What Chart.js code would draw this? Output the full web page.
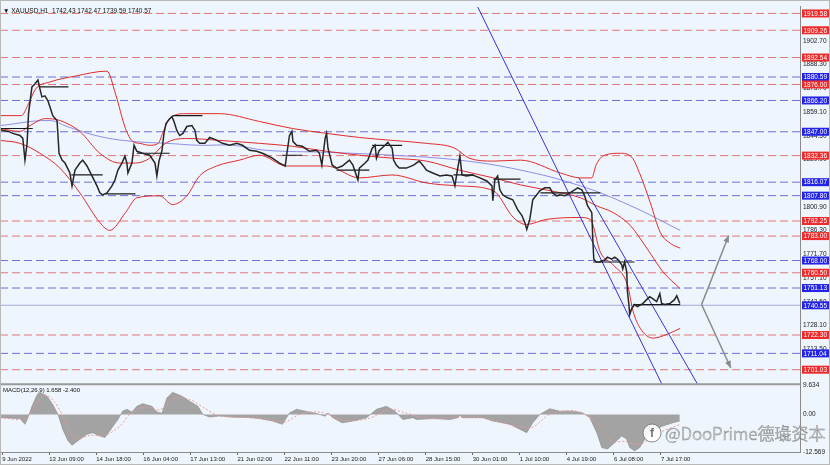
<!DOCTYPE html>
<html>
<head>
<meta charset="utf-8">
<script src="https://cdn.jsdelivr.net/npm/chart.js@4/dist/chart.umd.min.js"></script>
<style>
  html, body { margin: 0; padding: 0; background: #eef5fc; }
  #wrap { position: relative; width: 830px; height: 465px; }
</style>
</head>
<body>
<div id="wrap"><canvas id="c" width="830" height="465"></canvas></div>
<script>
// ---- axis ranges (bars = H1 candles, price, macd) ----
const xMin = 0, xMax = 561;
const yMin = 1692.1, yMax = 1923.6;
const mMin = -12.569, mMax = 10.1;

// ---- tick labels ----
const priceTicks = [1902.70, 1888.30, 1873.70, 1859.10, 1844.50, 1829.90, 1815.30, 1800.90,
                    1786.30, 1771.70, 1757.10, 1742.50, 1728.10, 1713.50];
const macdTicks = [9.634, 0, -12.569];
const macdTickText = ['9.634', '0.00', '-12.569'];
const xTickBars = [1.5, 34.5, 67.5, 100.5, 133.5, 166.5, 199.5, 232.5, 265.5, 298.5,
                   331.5, 364.5, 397.5, 430.5, 463.5];
const xTickLabels = ['9 Jun 2022', '13 Jun 09:00', '14 Jun 18:00', '16 Jun 04:00', '17 Jun 13:00',
                     '21 Jun 02:00', '22 Jun 11:00', '23 Jun 20:00', '27 Jun 06:00', '28 Jun 15:00',
                     '30 Jun 01:00', '1 Jul 10:00', '4 Jul 19:00', '6 Jul 08:00', '7 Jul 17:00'];

// ---- horizontal levels (r = resistance red, b = support blue, p = bid line) ----
const levelVals  = [1919.58, 1909.26, 1892.54, 1880.59, 1876.00, 1866.20, 1847.00, 1832.36, 1816.07, 1807.80,
                    1792.25, 1783.00, 1768.00, 1760.50, 1751.13, 1740.55, 1722.30, 1711.04, 1701.03];
const levelKinds = ['r', 'r', 'r', 'b', 'r', 'b', 'b', 'r', 'b', 'b',
                    'r', 'r', 'b', 'r', 'b', 'p', 'r', 'b', 'r'];

// ---- XAUUSD H1 price path ----
const priceBar = [0,2,6,9,14,16,17.5,19,20,22.4,24.5,26.6,28,29.4,31.5,33.6,35,37,40,40.7,
  41.4,43.5,45.6,49,50.5,52.6,56,58,61,64.5,68,70,72,75,78.5,80.6,82.7,85.5,87.6,89,
  89.7,92.5,94,96,100,105,108.7,110,111.5,113.6,115,116.4,118.5,120.6,122,124,126,128.3,131,134.6,
  136.7,138,140,143.7,147,150.7,156,161,166,170,175,180,184,187,191,196,200,201,203,204.7,
  205.4,208,212,217,222,224,225.7,228,229,230,233,236,240,245,247.5,251,252,256,258,261,
  263,264,266,270,272,275,276,278,280,285,290,294,296.5,299,303.5,308.5,313,317,319,321,
  322.5,324,327,331.5,336.5,341.4,345,345.6,347,349,350.5,352.6,356,359.6,363,366,368,369.4,371.5,373,
  373.6,376.4,378.5,382,385.5,387.6,390.5,392.6,396,399.6,403,405,408,410,412,415,415.7,416.4,418,420.6,
  424,426,429,431,433,436,436.7,438,439.5,440,441,441.6,443,445,447,450.7,453.5,455.6,457.7,460.5,
  462.7,464,466,469.7,473,474.6,476.7];
const priceVal = [1848.4,1847.8,1847.2,1846.0,1844.7,1842.9,1829.6,1839.9,1858.1,1874.5,
  1876.3,1878.7,1873.3,1868.4,1869.0,1866.0,1862.3,1856.9,1853.9,1844.1,
  1833.8,1829.6,1827.8,1821.7,1813.8,1823.5,1827.8,1829.6,1826.0,1819.9,
  1813.8,1809.5,1808.3,1809.5,1813.8,1817.4,1823.5,1827.8,1832.0,1827.8,
  1821.7,1827.8,1838.7,1835.0,1833.8,1832.6,1827.8,1819.9,1829.0,1835.6,
  1846.0,1852.0,1854.5,1856.3,1853.3,1847.8,1844.7,1846.0,1850.2,1850.8,
  1847.8,1841.7,1839.9,1839.9,1843.5,1842.3,1839.9,1838.7,1839.9,1838.7,
  1835.6,1835.0,1833.8,1832.6,1830.8,1827.8,1826.0,1832.6,1844.7,1847.2,
  1841.1,1838.7,1838.1,1835.0,1835.6,1833.8,1826.5,1842.9,1846.0,1836.9,
  1826.5,1824.7,1826.0,1829.6,1826.5,1817.4,1824.7,1827.8,1829.6,1836.9,
  1838.7,1830.8,1835.6,1838.7,1840.5,1836.9,1829.6,1826.5,1824.7,1824.7,
  1826.5,1829.0,1826.5,1823.5,1821.7,1819.9,1820.5,1819.9,1813.8,1824.7,
  1832.0,1820.5,1819.9,1820.5,1818.7,1816.8,1813.8,1804.7,1817.4,1819.9,
  1811.4,1808.3,1806.5,1805.3,1799.2,1795.6,1791.4,1787.1,1793.2,1801.7,
  1805.3,1808.3,1810.8,1812.6,1812.6,1809.5,1807.7,1808.3,1807.7,1809.5,
  1811.4,1812.6,1811.4,1807.7,1801.7,1797.4,1781.0,1768.9,1767.1,1767.1,
  1768.3,1770.1,1768.9,1770.1,1768.9,1765.3,1762.8,1767.1,1761.0,1748.9,
  1741.0,1734.9,1738.6,1741.0,1739.8,1741.6,1744.0,1745.8,1744.6,1742.8,
  1747.7,1741.6,1741.0,1741.6,1744.0,1746.4,1741.6];

// ---- Bollinger bands ----
const upperBar = [0,15,20,25,35,53,75,81,88,93,98,105,111,114,119,130,154,182,205,229,
  252,275,299,319,329,346,365,393,407,415,418,424,435,443,449,456,463,471,477];
const upperVal = [1856.9,1856.9,1864.2,1873.3,1877.5,1881.2,1884.2,1870.2,1849.0,1841.1,
  1839.9,1838.7,1839.9,1846.0,1855.1,1858.1,1858.1,1853.3,1849.0,1846.0,
  1843.5,1841.7,1839.9,1836.9,1830.8,1829.0,1829.6,1821.7,1818.7,1818.7,
  1826.6,1832.6,1833.8,1831.4,1820.5,1803.5,1785.3,1778.0,1775.6];
const midBar = [0,14,21,32,42,56,70,84,95,105,116,130,154,182,205,229,259,275,299,322,
  346,365,386,407,418,430,442,454,465,477];
const midVal = [1849.0,1847.2,1850.8,1855.1,1853.9,1847.2,1833.8,1827.8,1827.8,1830.8,
  1839.9,1842.9,1841.7,1839.9,1838.1,1835.0,1832.0,1830.8,1829.0,1823.5,
  1818.7,1814.4,1810.8,1806.5,1801.7,1797.4,1789.5,1775.0,1761.0,1750.7];
const lowBar = [0,14,28,42,56,70,77,88,96,112,121,131,140,152,168,182,201,229,252,275,
  299,322,346,360,369,383,407,414,421,430,440,444,449,458,468,477];
const lowVal = [1841.7,1839.9,1833.8,1824.7,1809.5,1791.3,1786.5,1797.4,1806.5,1807.7,
  1802.3,1807.7,1819.9,1826.0,1829.6,1832.6,1826.0,1826.0,1818.7,1820.5,
  1815.6,1813.8,1810.8,1794.4,1790.1,1793.2,1794.4,1793.2,1773.1,1765.3,
  1753.1,1736.7,1726.4,1720.4,1722.8,1726.4];

// ---- slow moving average ----
const maBar = [0,35,47,70,93,117,140,163,187,229,275,322,365,407,442,477];
const maVal = [1850.8,1853.9,1850.2,1844.1,1841.1,1839.9,1838.7,1838.7,1835.6,1834.4,
  1832.6,1829.6,1823.5,1813.8,1801.7,1786.5];

// ---- down channel, zone segments, projection arrows ----
const chanABar = [335, 464], chanAVal = [1923.6, 1692.4];
const chanBBar = [406, 489], chanBVal = [1818.7, 1692.4];
const segStart = [0, 28, 50, 74, 96, 121, 198, 236, 261, 318, 346, 379, 416, 444];
const segEnd   = [23, 48, 72, 95, 119, 142, 212, 259, 282, 332, 365, 421, 445, 477];
const segVal   = [1849.0, 1874.5, 1820.5, 1808.9, 1833.8, 1856.9, 1832.6, 1823.5, 1838.7,
                  1820.5, 1818.0, 1809.5, 1767.1, 1741.0];
const arrowUpBar = [492, 511],   arrowUpVal = [1741.0, 1783.4];
const arrowDnBar = [492, 512.5], arrowDnVal = [1741.0, 1702.1];

// ---- MACD(12,26,9) ----
const macdBar = [0,14,17.5,19.6,22.4,26,28,33,37,40.7,44,47.7,50.5,54.7,61,65,70,73.6,77,82.7,
  86,89,92.5,96,100,106.6,110,113.6,117,121,127.6,133,138.8,142.3,147,154,163,173,182,191,
  198,203,208,214,222,228,230,233.4,240,247.5,257,264,271,277,282.5,289.5,292,303.5,315.5,321,
  322.5,324.6,338.6,345.6,357.5,369.4,373.6,378.5,385.5,392.6,401.7,408.7,413.6,418.5,422,426,432.5,436,439.5,441.6,
  445,448.6,453.5,459,464.8,471.8,476.7];
const macdVal = [-1.1,-1.4,-3.3,-1.1,2.7,6.6,7.4,6.1,3.3,0,-5.0,-8.8,-10.3,-8.8,-6.6,-6.1,-7.2,-7.7,-5.5,-1.7,
  1.1,1.7,0.8,2.7,3.6,2.7,0.8,0.4,5.5,7.4,6.1,4.4,2.7,0,-0.9,-0.5,-0.9,-1.0,-1.4,-2.2,
  -3.3,0.5,1.7,1.1,0.3,-0.6,0.5,-1.1,-2.8,-2.2,-1.1,1.7,2.7,1.1,-1.7,-1.1,-1.7,-1.4,-1.7,-1.1,
  -0.3,-1.1,-1.1,-2.2,-3.3,-6.1,-2.8,0,1.9,1.1,1.1,0.5,-1.1,-6.1,-11.1,-11.6,-8.8,-7.2,-8.3,-11.1,
  -12.2,-11.1,-7.2,-5.0,-3.9,-2.8,-2.2];
const sigBar = [0,17.5,24.5,31.5,38.6,45.6,52.6,63,73.6,84,91,101.6,112,122.7,133,143.7,154,182,200,210,
  224,242,259,273,284,301,336.5,371.5,385.5,403,417,429,438,448.6,462.7,476.7];
const sigVal = [-1.0,-1.5,3,6.5,4,-2,-8,-7,-7,-4,0,2.5,1.5,5.5,5,2,-0.5,-1.2,-2.5,0,
  0.8,-2,-1.3,1.8,0.5,-1.3,-1,-4.5,0,1.2,-2,-9,-9,-10,-6,-3.4];

const pts = (xs, ys) => xs.map((x, i) => ({ x: x, y: ys[i] }));
const FONT = "'Liberation Sans', 'DejaVu Sans', sans-serif";

const levelColor = { r: '#e07878', b: '#6f6fd6', p: '#a9a9dd' };

const datasets = [];
levelVals.forEach(function(v, i) {
  const k = levelKinds[i];
  datasets.push({
    data: [{ x: xMin, y: v }, { x: xMax, y: v }],
    yAxisID: 'y', borderColor: levelColor[k], borderWidth: 1,
    borderDash: k === 'p' ? [] : [8, 4], pointRadius: 0, order: 20
  });
});
segStart.forEach(function(s, i) {
  datasets.push({
    data: [{ x: s, y: segVal[i] }, { x: segEnd[i], y: segVal[i] }],
    yAxisID: 'y', borderColor: '#1a1a1a', borderWidth: 1.2, pointRadius: 0, order: 2
  });
});
datasets.push(
  { data: pts(maBar, maVal), yAxisID: 'y', borderColor: '#8e8ee6', borderWidth: 1,
    pointRadius: 0, tension: 0.4, order: 8 },
  { data: pts(upperBar, upperVal), yAxisID: 'y', borderColor: '#e02c2c', borderWidth: 1,
    pointRadius: 0, cubicInterpolationMode: 'monotone', order: 6 },
  { data: pts(midBar, midVal), yAxisID: 'y', borderColor: '#e02c2c', borderWidth: 1,
    pointRadius: 0, cubicInterpolationMode: 'monotone', order: 6 },
  { data: pts(lowBar, lowVal), yAxisID: 'y', borderColor: '#e02c2c', borderWidth: 1,
    pointRadius: 0, cubicInterpolationMode: 'monotone', order: 6 },
  { data: pts(chanABar, chanAVal), yAxisID: 'y', borderColor: '#3434d4', borderWidth: 1,
    pointRadius: 0, order: 5 },
  { data: pts(chanBBar, chanBVal), yAxisID: 'y', borderColor: '#3434d4', borderWidth: 1,
    pointRadius: 0, order: 5 },
  { data: pts(arrowUpBar, arrowUpVal), yAxisID: 'y', borderColor: '#8a8a8a', borderWidth: 1.5,
    pointRadius: 0, order: 4, arrowHead: true },
  { data: pts(arrowDnBar, arrowDnVal), yAxisID: 'y', borderColor: '#8a8a8a', borderWidth: 1.5,
    pointRadius: 0, order: 4, arrowHead: true },
  { data: pts(priceBar, priceVal), yAxisID: 'y', borderColor: '#262626', borderWidth: 1.5,
    pointRadius: 0, order: 1 },
  { data: pts(macdBar, macdVal), yAxisID: 'y2', borderColor: '#8c8c8c', borderWidth: 0.6,
    backgroundColor: '#a3a3a3', fill: 'origin', pointRadius: 0, order: 12 },
  { data: pts(sigBar, sigVal), yAxisID: 'y2', borderColor: '#e89a9a', borderWidth: 1,
    borderDash: [2, 2], pointRadius: 0, tension: 0.3, order: 11 }
);

const mt4 = {
  id: 'mt4',
  beforeDraw(chart) {
    const ctx = chart.ctx;
    ctx.save();
    ctx.fillStyle = '#eef5fc';
    ctx.fillRect(0, 0, chart.width, chart.height);
    ctx.restore();
  },
  afterDatasetsDraw(chart) {
    const ctx = chart.ctx;
    chart.data.datasets.forEach(function(ds, i) {
      if (!ds.arrowHead) return;
      const p = chart.getDatasetMeta(i).data;
      const a = p[p.length - 2], b = p[p.length - 1];
      const ang = Math.atan2(b.y - a.y, b.x - a.x);
      ctx.save();
      ctx.translate(b.x, b.y);
      ctx.rotate(ang);
      ctx.fillStyle = ds.borderColor;
      ctx.beginPath();
      ctx.moveTo(0, 0); ctx.lineTo(-7, -3); ctx.lineTo(-7, 3);
      ctx.closePath(); ctx.fill();
      ctx.restore();
    });
  },
  afterDraw(chart) {
    const ctx = chart.ctx, area = chart.chartArea;
    const y = chart.scales.y, y2 = chart.scales.y2;
    ctx.save();
    // pane separator
    ctx.fillStyle = '#9a9a9a';
    ctx.fillRect(area.left, y2.top - 1, area.right - area.left, 2);
    // header + indicator caption
    ctx.fillStyle = '#111';
    ctx.font = '6.5px ' + FONT;
    ctx.textBaseline = 'middle';
    ctx.fillText('\u25BC XAUUSD,H1  1742.43 1742.47 1739.59 1740.57', 3, y.top + 4);
    ctx.font = '6px ' + FONT;
    ctx.fillText('MACD(12,26,9) 1.658 -2.400', 3, y2.top + 6);
    // level price boxes on the right axis
    ctx.font = '6.5px ' + FONT;
    levelVals.forEach(function(v, i) {
      const py = y.getPixelForValue(v);
      ctx.fillStyle = levelKinds[i] === 'r' ? '#ee2b2b' : '#2424e8';
      ctx.fillRect(area.right + 2, py - 4, 27, 8);
      ctx.fillStyle = '#ffffff';
      ctx.fillText(v.toFixed(2), area.right + 3.5, py + 0.5);
    });
    // watermark
    ctx.strokeStyle = 'rgba(110,110,110,0.8)';
    ctx.fillStyle = 'rgba(255,255,255,0.9)';
    ctx.lineWidth = 1;
    ctx.beginPath(); ctx.arc(652, 433, 9, 0, Math.PI * 2); ctx.fill(); ctx.stroke();
    ctx.fillStyle = 'rgba(90,90,90,0.85)';
    ctx.font = 'bold 12px ' + FONT;
    ctx.textAlign = 'center';
    ctx.fillText('f', 652, 434);
    ctx.textAlign = 'left';
    ctx.font = '300 17px "Noto Sans CJK SC", sans-serif';
    ctx.fillStyle = 'rgba(255,255,255,0.8)';
    ctx.strokeStyle = 'rgba(110,110,110,0.75)';
    ctx.lineWidth = 0.6;
    ctx.fillText('@DooPrime\u5FB7\u748F\u8D44\u672C', 665, 434);
    ctx.strokeText('@DooPrime\u5FB7\u748F\u8D44\u672C', 665, 434);
    // outer frame
    ctx.strokeStyle = '#b8b8b8';
    ctx.lineWidth = 1;
    ctx.strokeRect(0.5, 0.5, chart.width - 1, chart.height - 1);
    ctx.restore();
  }
};

new Chart(document.getElementById('c'), {
  type: 'line',
  data: { datasets: datasets },
  options: {
    responsive: false,
    devicePixelRatio: 1,
    animation: false,
    parsing: false,
    normalized: true,
    layout: { padding: { top: 2, left: 0, right: 0, bottom: 0 } },
    plugins: { legend: { display: false }, tooltip: { enabled: false } },
    scales: {
      x: {
        type: 'linear', min: xMin, max: xMax, position: 'bottom',
        afterBuildTicks: s => { s.ticks = xTickBars.map(v => ({ value: v })); },
        afterFit: s => { s.height = 13; },
        ticks: {
          callback: (v, i) => xTickLabels[i], align: 'start', autoSkip: false,
          maxRotation: 0, padding: 1, color: '#222', font: { size: 6, family: FONT }
        },
        grid: { display: true, drawOnChartArea: false, tickLength: 3, color: '#666' },
        border: { display: true, color: '#8a8a8a' }
      },
      y: {
        type: 'linear', position: 'right', stack: 'panes', stackWeight: 381.5,
        min: yMin, max: yMax,
        afterBuildTicks: s => { s.ticks = priceTicks.map(v => ({ value: v })); },
        afterFit: s => { s.width = 30; },
        ticks: {
          callback: v => v.toFixed(2), autoSkip: false, padding: 3, color: '#222',
          font: { size: 6.5, family: FONT }
        },
        grid: { display: false, drawTicks: false, tickLength: 0 },
        border: { display: true, color: '#8a8a8a' }
      },
      y2: {
        type: 'linear', position: 'right', stack: 'panes', stackWeight: 68.5,
        min: mMin, max: mMax,
        afterBuildTicks: s => { s.ticks = macdTicks.map(v => ({ value: v })); },
        afterFit: s => { s.width = 30; },
        ticks: {
          callback: (v, i) => macdTickText[i], autoSkip: false, padding: 3, color: '#222',
          font: { size: 6.5, family: FONT }
        },
        grid: { display: false, drawTicks: false, tickLength: 0 },
        border: { display: true, color: '#8a8a8a' }
      }
    }
  },
  plugins: [mt4]
});
</script>
</body>
</html>
